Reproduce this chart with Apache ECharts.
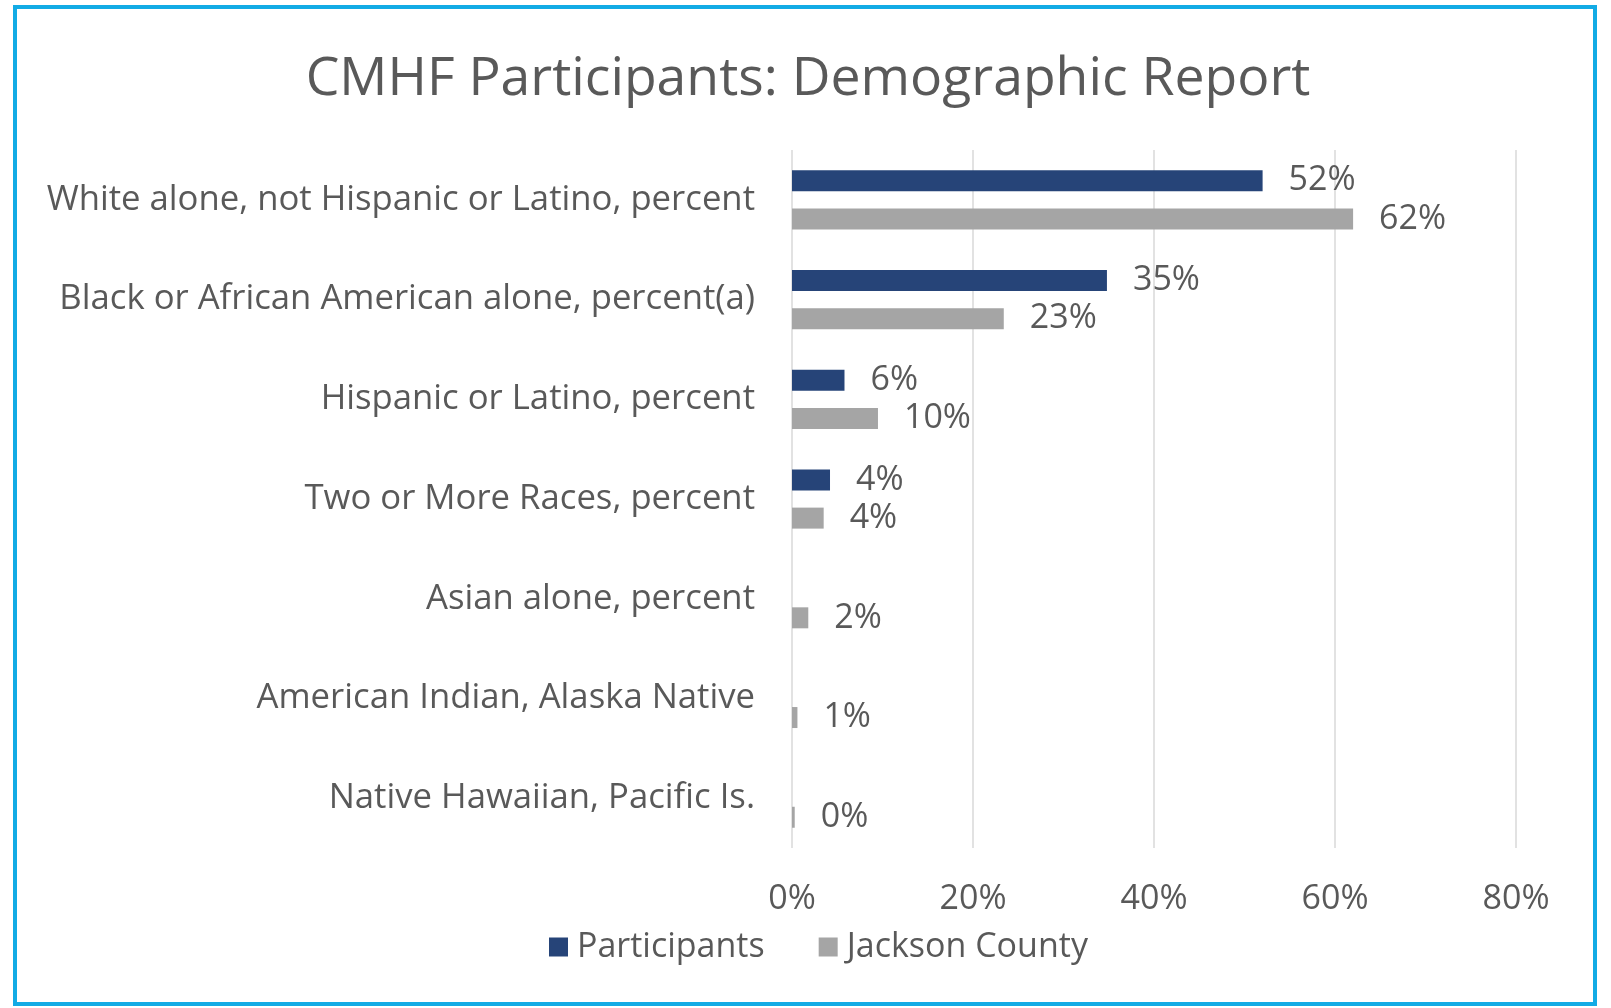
<!DOCTYPE html>
<html>
<head>
<meta charset="utf-8">
<script src="https://cdn.jsdelivr.net/npm/echarts@6/dist/echarts.min.js"></script>
<style>
  html, body { margin: 0; padding: 0; background: #fff; }
  #myChart { position: absolute; left: 0; top: 0; width: 1611px; height: 1008px; }
  .frame {
    position: absolute; left: 13px; top: 5px; width: 1576px; height: 993px;
    border: 4px solid #12abe5; pointer-events: none;
  }
</style>
</head>
<body>
<div id="myChart"></div>
<div class="frame"></div>
<script>
// categories, top to bottom
const categories = [
  'White alone, not Hispanic or Latino, percent',
  'Black or African American alone, percent(a)',
  'Hispanic or Latino, percent',
  'Two or More Races, percent',
  'Asian alone, percent',
  'American Indian, Alaska Native',
  'Native Hawaiian, Pacific Is.'
]
// percent values (null = no bar shown)
const participants = [52, 34.8, 5.8, 4.2, null, null, null]
const jacksonCounty = [62, 23.4, 9.5, 3.5, 1.8, 0.6, 0.3]
const tickLabels = ['0%', '20%', '40%', '60%', '80%']

const font = '"Open Sans", Lato, sans-serif'
const textColor = '#595959'

const myChart = echarts.init(document.getElementById('myChart'))

const labelOpt = {
  show: true,
  position: 'right',
  distance: 26,
  fontSize: 34,
  fontFamily: font,
  color: textColor,
  formatter: (p) => Math.round(p.value) + '%'
}

myChart.setOption({
  animation: false,
  title: {
    text: 'CMHF Participants: Demographic Report',
    left: 803,
    top: 48,
    textAlign: 'center',
    textStyle: { fontFamily: font, fontSize: 53.5, fontWeight: 'normal', color: textColor }
  },
  legend: {
    data: ['Participants', 'Jackson County'],
    left: 544,
    top: 925,
    itemWidth: 19,
    itemHeight: 19,
    itemGap: 54,
    icon: 'rect',
    textStyle: { fontFamily: font, fontSize: 34, color: textColor, padding: [0, 0, 0, 4] }
  },
  grid: { left: 792, top: 150, width: 724, height: 698, containLabel: false },
  xAxis: {
    type: 'value',
    min: 0,
    max: 80,
    interval: 20,
    axisLine: { show: false },
    axisTick: { show: false },
    splitLine: { lineStyle: { color: '#d9d9d9', width: 1.5 } },
    axisLabel: {
      margin: 34,
      fontSize: 34,
      fontFamily: font,
      color: textColor,
      formatter: (v) => tickLabels[v / 20]
    }
  },
  yAxis: {
    type: 'category',
    inverse: true,
    data: categories,
    axisLine: { show: false },
    axisTick: { show: false },
    axisLabel: { margin: 37, fontSize: 34.7, fontFamily: font, color: textColor }
  },
  series: [
    {
      name: 'Participants',
      type: 'bar',
      barWidth: 21,
      barGap: '82%',
      itemStyle: { color: '#264478' },
      label: labelOpt,
      data: participants
    },
    {
      name: 'Jackson County',
      type: 'bar',
      barWidth: 21,
      barGap: '82%',
      itemStyle: { color: '#a5a5a5' },
      label: labelOpt,
      data: jacksonCounty
    }
  ]
})
</script>
</body>
</html>
